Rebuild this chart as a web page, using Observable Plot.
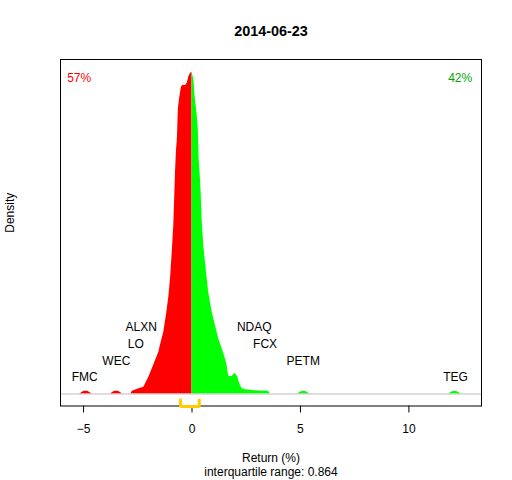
<!DOCTYPE html>
<html><head><meta charset="utf-8">
<script src="https://cdn.jsdelivr.net/npm/d3@7"></script>
<script src="https://cdn.jsdelivr.net/npm/@observablehq/plot@0.6"></script>
<style>body{margin:0;background:#fff}</style>
</head><body><div id="chart"></div>
<script>
const title = "2014-06-23";
const xTitle = "Return (%)";
const yTitle = "Density";
const iqrValue = 0.864;
const pctDown = "57%";
const pctUp = "42%";
const xTicks = [-5, 0, 5, 10];

// density of returns
const densityX = [
  -5.17, -5.07, -4.97, -4.81, -4.71, -4.61,
  -3.76, -3.66, -3.56, -3.40, -3.30, -3.20,
  -2.82, -2.75, -2.45, -2.22, -2.14, -1.99, -1.83, -1.68, -1.53, -1.42, -1.30,
  -1.17, -1.07, -0.99, -0.91, -0.84, -0.76, -0.72, -0.67, -0.63, -0.58, -0.53,
  -0.49, -0.43, -0.30, -0.22, -0.15, -0.10, -0.03, 0,
  0.04, 0.09, 0.13, 0.18, 0.24, 0.29, 0.33, 0.38, 0.42, 0.47, 0.54, 0.62, 0.70,
  0.77, 0.93, 1.08, 1.23, 1.39, 1.54, 1.62, 1.69, 1.85, 2.00, 2.11, 2.20, 2.31,
  2.46, 2.92, 3.53, 3.61,
  4.87, 4.97, 5.07, 5.23, 5.33, 5.43,
  11.84, 11.94, 12.04, 12.20, 12.30, 12.40
];
const densityY = [
  0, 0.003, 0.0052, 0.0052, 0.003, 0,
  0, 0.003, 0.0052, 0.0052, 0.003, 0,
  0, 0.0052, 0.0097, 0.0127, 0.019, 0.0314, 0.047, 0.0625, 0.078, 0.0967, 0.1153,
  0.150, 0.1807, 0.2156, 0.2647, 0.3145, 0.414, 0.4513, 0.4793, 0.531, 0.549, 0.562,
  0.5726, 0.5758, 0.5758, 0.580, 0.5913, 0.5963, 0.600, 0.5994,
  0.5944, 0.5864, 0.5603, 0.5416, 0.5198, 0.4931, 0.4371, 0.4078, 0.378, 0.322, 0.2772, 0.246, 0.215,
  0.19, 0.1527, 0.1278, 0.103, 0.0844, 0.0657, 0.0532, 0.0327, 0.0327, 0.0388, 0.0314, 0.019, 0.0097,
  0.0078, 0.006, 0.0052, 0,
  0, 0.003, 0.0047, 0.0047, 0.003, 0,
  0, 0.003, 0.0047, 0.0047, 0.003, 0
];

// outlier labels
const labelNames = ["FMC", "WEC", "LO", "ALXN", "NDAQ", "FCX", "PETM", "TEG"];
const labelX = [-4.95, -3.49, -2.59, -2.34, 2.87, 3.37, 5.13, 12.15];
const labelY = [0.031, 0.062, 0.093, 0.124, 0.124, 0.093, 0.062, 0.031];

// interquartile range
const q1 = -0.53;
const q3 = 0.334;

const dens = densityX.map((x, i) => ({x, y: densityY[i]}));
const neg = dens.filter(d => d.x <= 0);
const pos = dens.filter(d => d.x >= 0);
const labels = labelNames.map((name, i) => ({name, x: labelX[i], y: labelY[i]}));
const bracketTop = -0.009, bracketBottom = -0.0233;
const bracket = [
  {x: q1, y: bracketTop}, {x: q1, y: bracketBottom},
  {x: q3, y: bracketBottom}, {x: q3, y: bracketTop}
];

const font = "'Liberation Sans', Arial, Helvetica, sans-serif";

const chart = Plot.plot({
  width: 512,
  height: 480,
  marginLeft: 60,
  marginRight: 31,
  marginTop: 59,
  marginBottom: 74.5,
  style: {fontFamily: font, fontSize: "12px", color: "black", background: "white", overflow: "visible"},
  x: {domain: [-6.063, 13.347]},
  y: {domain: [-0.0224, 0.6243], axis: null},
  marks: [
    Plot.areaY(neg, {x: "x", y: "y", fill: "#ff0000"}),
    Plot.areaY(pos, {x: "x", y: "y", fill: "#00ff00"}),
    Plot.ruleY([0], {stroke: "#bebebe", strokeWidth: 1}),
    Plot.frame({stroke: "black", strokeWidth: 1}),
    Plot.axisX({ticks: xTicks, tickSize: 7, tickPadding: 11, fontSize: 12, label: null, stroke: "black", fill: "black"}),
    Plot.line(bracket, {x: "x", y: "y", stroke: "#ffcc00", strokeWidth: 3, strokeLinejoin: "miter", strokeLinecap: "butt"}),
    Plot.text(labels, {x: "x", y: "y", text: "name", fill: "black", fontSize: 12}),
    Plot.text([pctDown], {frameAnchor: "top-left", lineAnchor: "middle", dx: 6.7, dy: 18.3, textAnchor: "start", fill: "#ff0000", fontSize: 12}),
    Plot.text([pctUp], {frameAnchor: "top-right", lineAnchor: "middle", dx: -9.3, dy: 18.3, textAnchor: "end", fill: "#00a800", fontSize: 12}),
    Plot.text([title], {frameAnchor: "top", lineAnchor: "middle", dy: -28, fontWeight: "bold", fontSize: 14.4, fill: "black"}),
    Plot.text([yTitle], {frameAnchor: "left", lineAnchor: "middle", dx: -50, rotate: -90, fontSize: 12, fill: "black"}),
    Plot.text([xTitle], {frameAnchor: "bottom", lineAnchor: "middle", dy: 52.5, fontSize: 12, fill: "black"}),
    Plot.text(["interquartile range: " + iqrValue], {frameAnchor: "bottom", lineAnchor: "middle", dy: 66, fontSize: 12, fill: "black"})
  ]
});
document.getElementById("chart").appendChild(chart);
</script>
</body></html>
